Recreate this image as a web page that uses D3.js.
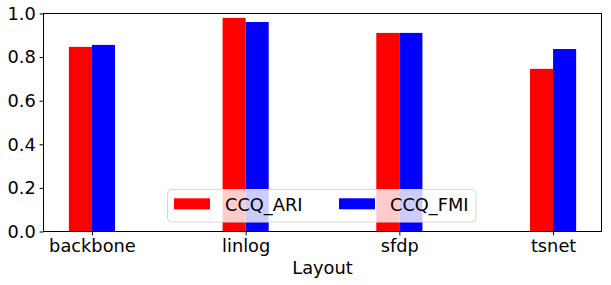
<!DOCTYPE html>
<html>
<head>
<meta charset="utf-8">
<script src="https://cdn.jsdelivr.net/npm/d3@7"></script>
<style>
  body { margin: 0; background: #fff; }
  text { font-family: "DejaVu Sans", sans-serif; fill: #000; }
</style>
</head>
<body>
<div id="chart"></div>
<script>
// data
const layouts = ["backbone", "linlog", "sfdp", "tsnet"];
const ariValues = [0.847, 0.980, 0.911, 0.746];
const fmiValues = [0.856, 0.961, 0.911, 0.837];
const yTicks = [0.0, 0.2, 0.4, 0.6, 0.8, 1.0];
const seriesNames = ["CCQ_ARI", "CCQ_FMI"];
const seriesColors = ["#ff0000", "#0000ff"];

// layout
const W = 611, H = 285;
const LEFT = 43.5, RIGHT = 601.5, TOP = 13.5, BOTTOM = 231.5;
const FONT = 17.8;
const BAR_W = 0.15;
const TICK = 3.9;

const svg = d3.select("#chart").append("svg")
    .attr("width", W).attr("height", H);

// matplotlib style x limits: bars span -0.15..3.15, plus 5% margin
const span = (layouts.length - 1) + 2 * BAR_W;
const x = d3.scaleLinear()
    .domain([-BAR_W - 0.05 * span, layouts.length - 1 + BAR_W + 0.05 * span])
    .range([LEFT, RIGHT]);
const y = d3.scaleLinear().domain([0, 1]).range([BOTTOM, TOP]);

// bars
const series = [ariValues, fmiValues];
series.forEach((vals, s) => {
    svg.append("g").selectAll("rect")
        .data(vals)
        .enter().append("rect")
        .attr("x", (d, i) => x(i - BAR_W + s * BAR_W))
        .attr("width", (d, i) => x(BAR_W) - x(0))
        .attr("y", d => y(d))
        .attr("height", d => y(0) - y(d))
        .attr("fill", seriesColors[s]);
});

// axes
const yAxis = d3.axisLeft(y).tickValues(yTicks)
    .tickFormat(d3.format(".1f")).tickSize(TICK).tickPadding(3.9);
const gy = svg.append("g").attr("transform", `translate(${LEFT},0)`).call(yAxis);

const xAxis = d3.axisBottom(x).tickValues(layouts.map((d, i) => i))
    .tickFormat((d, i) => layouts[i]).tickSize(TICK).tickPadding(3.9);
const gx = svg.append("g").attr("transform", `translate(0,${BOTTOM})`).call(xAxis);

[gx, gy].forEach(g => {
    g.select(".domain").remove();
    g.selectAll("line").attr("stroke", "#000").attr("stroke-width", 1);
    g.selectAll("text").attr("font-size", FONT).attr("font-family", "DejaVu Sans").attr("fill", "#000");
});

// frame
svg.append("rect")
    .attr("x", LEFT).attr("y", TOP)
    .attr("width", RIGHT - LEFT).attr("height", BOTTOM - TOP)
    .attr("fill", "none").attr("stroke", "#000").attr("stroke-width", 1);

// x label
svg.append("text")
    .attr("x", (LEFT + RIGHT) / 2).attr("y", 274)
    .attr("text-anchor", "middle").attr("font-size", FONT)
    .text("Layout");

// legend
const legend = svg.append("g");
legend.append("rect")
    .attr("x", 167.5).attr("y", 189.5).attr("width", 308.5).attr("height", 32.5)
    .attr("rx", 4).attr("ry", 4)
    .attr("fill", "#fff").attr("fill-opacity", 0.8)
    .attr("stroke", "#d6d6d6").attr("stroke-width", 1);
const itemX = [174, 339];
seriesNames.forEach((name, i) => {
    legend.append("rect")
        .attr("x", itemX[i]).attr("y", 198.3)
        .attr("width", 36).attr("height", 11)
        .attr("fill", seriesColors[i]);
    legend.append("text")
        .attr("x", itemX[i] + 51).attr("y", 210.5)
        .attr("font-size", FONT)
        .text(name);
});
</script>
</body>
</html>
